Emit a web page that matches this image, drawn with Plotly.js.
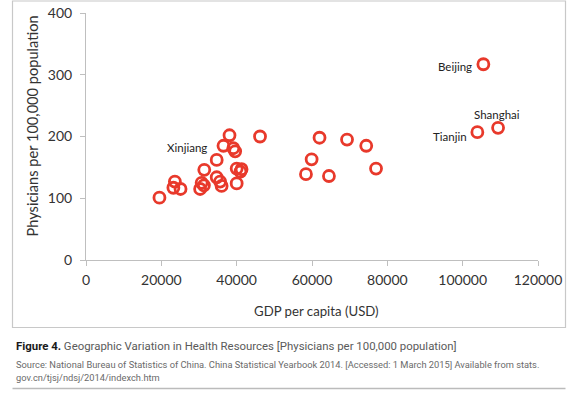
<!DOCTYPE html>
<html>
<head>
<meta charset="utf-8">
<script src="https://cdn.plot.ly/plotly-3.0.1.min.js"></script>
<style>
html,body{margin:0;padding:0;background:#fff;}
#chart{width:582px;height:393px;}
</style>
</head>
<body>
<div id="chart"></div>
<script>
// GDP per capita (USD) and physicians per 100,000 population, one per province
const gdpPerCapita = [19500, 23600, 23200, 25100, 30300, 30700, 31300, 31400, 34700, 34700,
  35600, 36000, 36500, 38100, 39100, 39600, 40000, 41300, 41000, 40000,
  46200, 58400, 59900, 62000, 64500, 69300, 74400, 77000, 103900, 109400, 105500];
const physicians = [101, 127, 117, 115, 115, 125, 121, 146, 162, 134,
  127, 120, 185, 202, 181, 176, 148, 147, 143, 124,
  200, 139, 163, 198, 136, 195, 185, 148, 207, 214, 317];
const pointLabels = ['', '', '', '', '', '', '', '', 'Xinjiang', '',
  '', '', '', '', '', '', '', '', '', '',
  '', '', '', '', '', '', '', '', 'Tianjin', 'Shanghai', 'Beijing'];
const xTicks = [0, 20000, 40000, 60000, 80000, 100000, 120000];
const yTicks = [0, 100, 200, 300, 400];
const xTitle = 'GDP per capita (USD)';
const yTitle = 'Physicians per 100,000 population';
const captionTitle = '<b><span style="color:#1a1a1a">Figure 4.</span></b> Geographic Variation in Health Resources [Physicians per 100,000 population]';
const captionSource1 = 'Source: National Bureau of Statistics of China. China Statistical Yearbook 2014. [Accessed: 1 March 2015] Available from stats.';
const captionSource2 = 'gov.cn/tjsj/ndsj/2014/indexch.htm';

// label placement per label name
const labelPlacement = {
  'Beijing':  {xanchor: 'right', xshift: -9, yshift: -2},
  'Tianjin':  {xanchor: 'right', xshift: -8, yshift: -4},
  'Shanghai': {xanchor: 'center', xshift: -1, yshift: 13},
  'Xinjiang': {xanchor: 'right', xshift: -8, yshift: 12}
};

const W = 582, H = 393;
const L = 86, R = 44, T = 13, B = 133;
const pw = W - L - R, ph = H - T - B;
const px = v => (v - L) / pw;        // pixel x -> paper x
const py = v => (H - B - v) / ph;    // pixel y -> paper y

const chartFont = 'Lato, "Open Sans", sans-serif';
const capFont = 'Roboto, "Noto Sans", sans-serif';

const annotations = [];
pointLabels.forEach((lab, i) => {
  if (!lab) return;
  const p = labelPlacement[lab];
  annotations.push({
    x: gdpPerCapita[i], y: physicians[i], xref: 'x', yref: 'y',
    text: lab, showarrow: false, xanchor: p.xanchor, yanchor: 'middle',
    xshift: p.xshift, yshift: p.yshift,
    font: {family: chartFont, size: 11.5, color: '#222'}
  });
});
annotations.push({
  xref: 'paper', yref: 'paper', x: px(32), y: py(126.5), text: yTitle, textangle: -90,
  showarrow: false, xanchor: 'center', yanchor: 'middle',
  font: {family: chartFont, size: 14.6, color: '#333'}
});
annotations.push({
  xref: 'paper', yref: 'paper', x: px(316), y: py(311), text: xTitle,
  showarrow: false, xanchor: 'center', yanchor: 'middle',
  font: {family: chartFont, size: 13.2, color: '#333'}
});
annotations.push({
  xref: 'paper', yref: 'paper', x: px(14), y: py(346), text: captionTitle,
  showarrow: false, xanchor: 'left', yanchor: 'middle',
  font: {family: capFont, size: 11.4, color: '#5a5a5a'}
});
annotations.push({
  xref: 'paper', yref: 'paper', x: px(14), y: py(364), text: captionSource1,
  showarrow: false, xanchor: 'left', yanchor: 'middle',
  font: {family: capFont, size: 9.3, color: '#6a6a6a'}
});
annotations.push({
  xref: 'paper', yref: 'paper', x: px(14), y: py(377), text: captionSource2,
  showarrow: false, xanchor: 'left', yanchor: 'middle',
  font: {family: capFont, size: 9.3, color: '#6a6a6a'}
});

const shapes = [
  {type: 'rect', xref: 'paper', yref: 'paper', x0: px(12.5), x1: px(565.5), y0: py(327.5), y1: py(1),
   line: {color: '#c8c8c8', width: 1.2}, fillcolor: 'rgba(0,0,0,0)', layer: 'below'},
  {type: 'line', xref: 'paper', yref: 'paper', x0: px(12.5), x1: px(565.5), y0: py(388.5), y1: py(388.5),
   line: {color: '#bbbbbb', width: 1.5}}
];

const trace = {
  type: 'scatter', mode: 'markers',
  x: gdpPerCapita, y: physicians,
  marker: {symbol: 'circle-open', size: 11, color: '#e8392b', line: {width: 2.8, color: '#e8392b'}},
  hoverinfo: 'x+y'
};

const layout = {
  width: W, height: H,
  margin: {l: L, r: R, t: T, b: B, pad: 0},
  paper_bgcolor: '#ffffff', plot_bgcolor: '#ffffff',
  showlegend: false,
  xaxis: {
    range: [0, 120000], tickvals: xTicks, ticktext: xTicks.map(String),
    showgrid: false, zeroline: false, showline: true, linecolor: '#bfbfbf', linewidth: 1,
    ticks: 'outside', ticklen: 5, tickcolor: '#bfbfbf', tickwidth: 1, ticklabelstandoff: 2,
    tickfont: {family: chartFont, size: 14, color: '#333'}, fixedrange: true
  },
  yaxis: {
    range: [0, 400], tickvals: yTicks, ticktext: yTicks.map(String),
    showgrid: false, zeroline: false, showline: true, linecolor: '#bfbfbf', linewidth: 1,
    ticks: 'outside', ticklen: 5, tickcolor: '#bfbfbf', tickwidth: 1, ticklabelstandoff: 5,
    tickfont: {family: chartFont, size: 14, color: '#333'}, fixedrange: true
  },
  annotations: annotations,
  shapes: shapes
};

Plotly.newPlot('chart', [trace], layout, {displayModeBar: false, staticPlot: true});
</script>
</body>
</html>
